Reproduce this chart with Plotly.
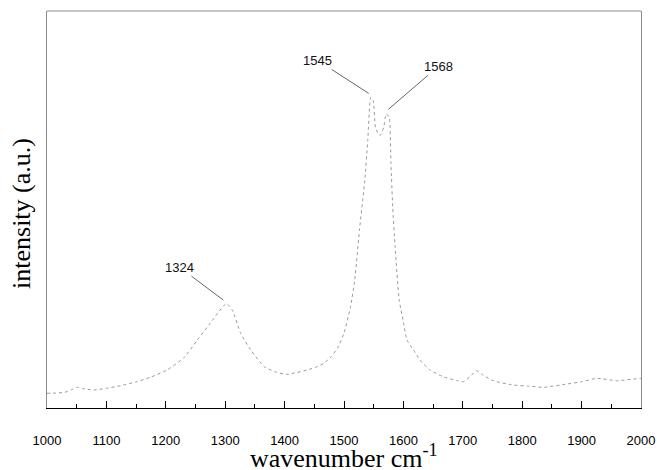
import plotly.graph_objects as go

wavenumber = [1000, 1015, 1030, 1040, 1050, 1060, 1078, 1100, 1125, 1151, 1175, 1202,
              1230, 1253, 1275, 1290, 1302, 1312, 1326, 1343, 1366, 1385, 1404, 1420,
              1438, 1455, 1466, 1478, 1490, 1500, 1511, 1518, 1526, 1535, 1540, 1545,
              1549, 1553, 1558, 1561, 1567, 1571, 1576, 1579, 1582, 1586, 1593, 1600,
              1606, 1617, 1628, 1645, 1667, 1690, 1701, 1712, 1723, 1734, 1751, 1785,
              1810, 1836, 1875, 1900, 1926, 1959, 1998, 2000]
intensity = [14.7, 15, 15.7, 18, 20.7, 19.5, 18, 19.7, 22.5, 26.3, 31, 38,
             50, 68, 85, 97, 104.7, 98, 75, 58, 41.3, 36, 33.7, 35.5,
             38, 41.5, 44.7, 51, 61, 75, 101.3, 128, 178, 228, 268, 311,
             308, 281.3, 274, 273, 281.3, 294.5, 291.3, 245, 201.3, 161.3, 108, 86,
             68, 58, 48, 38, 31.3, 27.5, 26.3, 31.3, 37.3, 33, 27.3, 23,
             22, 20.7, 24, 26.3, 29.7, 27.3, 29.7, 29.7]

peak_labels = ["1324", "1545", "1568"]
peak_x = [1297, 1541.6, 1574.6]
peak_y = [108, 315, 299]
label_offsets = [(-44, -33), (-51, -33), (50, -43)]

tick_vals = list(range(1000, 2001, 100))
tick_text = [str(v) for v in tick_vals]

x_title = "wavenumber cm<sup>-1</sup>"
y_title = "intensity (a.u.)"

fig = go.Figure()
fig.add_trace(go.Scatter(
    x=wavenumber, y=intensity, mode="lines",
    line=dict(color="#9a9a9a", width=1, dash="dot", shape="spline", smoothing=0.5),
    showlegend=False, hoverinfo="skip"))

for lab, px, py, (ax, ay) in zip(peak_labels, peak_x, peak_y, label_offsets):
    fig.add_annotation(x=px, y=py, text=lab, showarrow=True, arrowhead=0,
                       arrowwidth=1, arrowcolor="#666666", ax=ax, ay=ay,
                       font=dict(family="Liberation Sans, Arial, sans-serif", size=13, color="#111"))

serif = "Liberation Serif, Times New Roman, serif"
fig.add_annotation(xref="paper", yref="paper", x=0.5, y=0, xanchor="center", yanchor="top",
                   yshift=-30, text=x_title, showarrow=False,
                   font=dict(family=serif, size=26, color="black"))
fig.add_annotation(xref="paper", yref="paper", x=0, y=0.49, xanchor="right", yanchor="middle",
                   xshift=-9, textangle=-90, text=y_title, showarrow=False,
                   font=dict(family=serif, size=26, color="black"))

fig.add_shape(type="line", xref="paper", yref="paper", x0=0, x1=1, y0=1, y1=1,
              line=dict(color="#8c8c8c", width=1))

fig.update_layout(
    width=657, height=470,
    margin=dict(l=47, r=16, t=10.5, b=62),
    paper_bgcolor="white", plot_bgcolor="white",
    xaxis=dict(range=[1000, 2000], tickvals=tick_vals, ticktext=tick_text, automargin=False,
               showgrid=False, zeroline=False, showline=True, linecolor="black", linewidth=1,
               ticks="inside", ticklen=7, tickcolor="black", tickwidth=1,
               minor=dict(dtick=50, ticks="inside", ticklen=4, tickcolor="black", tickwidth=1),
               ticklabelstandoff=20,
               tickfont=dict(family="Liberation Sans, Arial, sans-serif", size=13, color="black")),
    yaxis=dict(range=[0, 397.5], showticklabels=False, ticks="", showgrid=False, zeroline=False,
               automargin=False, showline=True, mirror=True, linecolor="#8c8c8c", linewidth=1),
)

fig.write_html("out.html", config={"displayModeBar": False},
               post_script="document.body.style.margin='0px';")
